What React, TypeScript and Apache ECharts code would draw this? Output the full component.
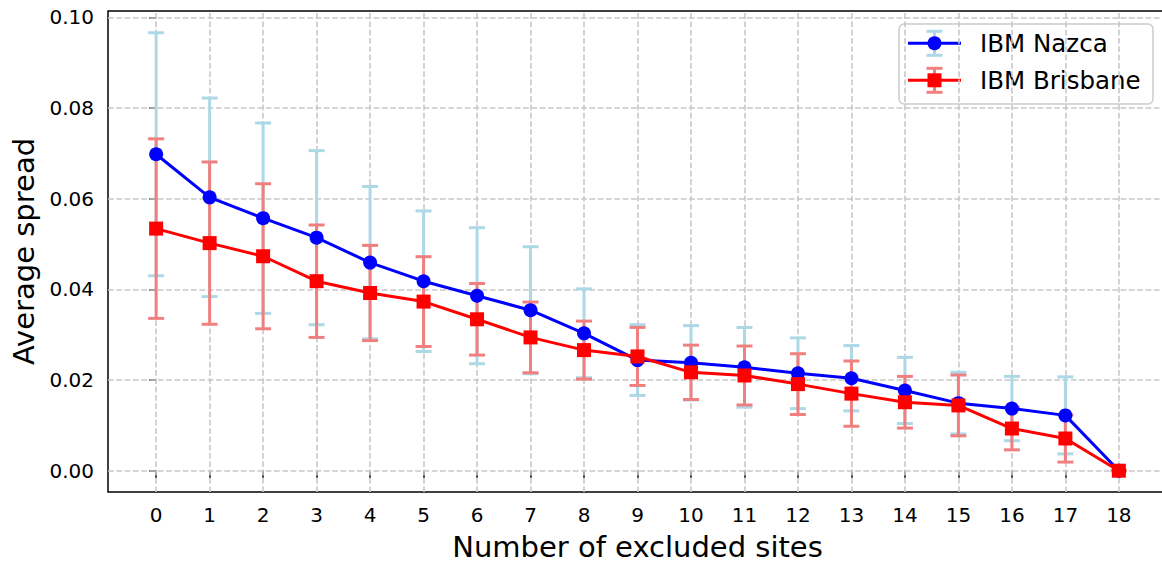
import React, { useEffect, useRef } from "react";
import * as echarts from "echarts";

const sites = [0, 1, 2, 3, 4, 5, 6, 7, 8, 9, 10, 11, 12, 13, 14, 15, 16, 17, 18];
const nazcaMean = [0.0698, 0.0603, 0.0557, 0.0514, 0.0459, 0.0418, 0.0386, 0.0354, 0.0303, 0.0244, 0.0238, 0.0228, 0.0215, 0.0204, 0.0177, 0.0149, 0.0137, 0.0122, 0.0];
const nazcaStd = [0.0268, 0.0219, 0.021, 0.0192, 0.0168, 0.0155, 0.015, 0.014, 0.0098, 0.0078, 0.0082, 0.0088, 0.0078, 0.0072, 0.0073, 0.0068, 0.0071, 0.0085, 0.0];
const brisbaneMean = [0.0534, 0.0502, 0.0473, 0.0418, 0.0392, 0.0373, 0.0334, 0.0294, 0.0266, 0.0252, 0.0217, 0.021, 0.0191, 0.017, 0.0151, 0.0144, 0.0093, 0.0071, 0.0];
const brisbaneStd = [0.0198, 0.0179, 0.016, 0.0124, 0.0105, 0.0099, 0.0079, 0.0078, 0.0064, 0.0064, 0.006, 0.0065, 0.0067, 0.0072, 0.0057, 0.0067, 0.0047, 0.0052, 0.0];
const yTicks = [0, 0.02, 0.04, 0.06, 0.08, 0.1];
const xTicks = sites;
const seriesNames = ["IBM Nazca", "IBM Brisbane"];

const FONT = "DejaVu Sans";
const BLUE = "#0000ff";
const RED = "#ff0000";
const LIGHTBLUE = "#add8e6";
const LIGHTCORAL = "#f08080";

function errorBarSeries(mean: number[], std: number[], color: string, z: number) {
  return {
    type: "custom",
    z,
    silent: true,
    data: sites.map((x, i) => [x, mean[i] - std[i], mean[i] + std[i]]),
    encode: { x: 0, y: [1, 2] },
    renderItem: (params: any, api: any) => {
      const x = api.value(0);
      const top = api.coord([x, api.value(2)]);
      const bot = api.coord([x, api.value(1)]);
      const half = 8;
      const st = { stroke: color, lineWidth: 3 };
      return {
        type: "group",
        children: [
          { type: "line", shape: { x1: top[0], y1: top[1], x2: bot[0], y2: bot[1] }, style: st },
          { type: "line", shape: { x1: top[0] - half, y1: top[1], x2: top[0] + half, y2: top[1] }, style: st },
          { type: "line", shape: { x1: bot[0] - half, y1: bot[1], x2: bot[0] + half, y2: bot[1] }, style: st },
        ],
      };
    },
  };
}

function legendItem(y: number, lineColor: string, errColor: string, marker: "circle" | "rect", label: string) {
  const cx = 934.5;
  const children: any[] = [
    { type: "line", shape: { x1: cx, y1: y - 12, x2: cx, y2: y + 12 }, style: { stroke: errColor, lineWidth: 3 } },
    { type: "line", shape: { x1: cx - 8, y1: y - 12, x2: cx + 8, y2: y - 12 }, style: { stroke: errColor, lineWidth: 3 } },
    { type: "line", shape: { x1: cx - 8, y1: y + 12, x2: cx + 8, y2: y + 12 }, style: { stroke: errColor, lineWidth: 3 } },
    { type: "line", shape: { x1: 908, y1: y, x2: 961, y2: y }, style: { stroke: lineColor, lineWidth: 3 } },
    marker === "circle"
      ? { type: "circle", shape: { cx, cy: y, r: 7 }, style: { fill: lineColor } }
      : { type: "rect", shape: { x: cx - 7, y: y - 7, width: 14, height: 14 }, style: { fill: lineColor } },
    {
      type: "text",
      x: 980,
      y,
      style: { text: label, fill: "#000", font: `24.5px "${FONT}"`, verticalAlign: "middle", align: "left" },
    },
  ];
  return children;
}

export default function App() {
  const ref = useRef<HTMLDivElement>(null);
  useEffect(() => {
    if (!ref.current) return;
    const chart = echarts.init(ref.current, null, { renderer: "svg" });
    const option: any = {
      animation: false,
      backgroundColor: "#ffffff",
      grid: {
        left: 108,
        top: 11,
        width: 1059,
        height: 481,
        outerBoundsMode: "none",
        containLabel: false,
        show: true,
        borderColor: "#000",
        borderWidth: 1.5,
        backgroundColor: "transparent",
      },
      xAxis: {
        type: "value",
        min: -0.9,
        max: 18.9,
        name: "Number of excluded sites",
        nameLocation: "middle",
        nameGap: 40,
        nameTextStyle: { fontFamily: FONT, fontSize: 29, color: "#000" },
        axisLine: { show: false },
        axisTick: { show: true, inside: false, length: 7, customValues: xTicks, lineStyle: { color: "#000", width: 1.5 } },
        axisLabel: {
          customValues: xTicks,
          margin: 13,
          fontFamily: FONT,
          fontSize: 20,
          color: "#000",
          formatter: (v: number) => String(v),
        },
        splitLine: { show: false },
      },
      yAxis: {
        type: "value",
        min: -0.0047,
        max: 0.1014,
        name: "Average spread",
        nameLocation: "middle",
        nameGap: 64,
        nameTextStyle: { fontFamily: FONT, fontSize: 29, color: "#000" },
        axisLine: { show: false },
        axisTick: { show: true, inside: false, length: 7, customValues: yTicks, lineStyle: { color: "#000", width: 1.5 } },
        axisLabel: {
          customValues: yTicks,
          margin: 14,
          fontFamily: FONT,
          fontSize: 20,
          color: "#000",
          formatter: (v: number) => v.toFixed(2),
        },
        splitLine: { show: false },
      },
      series: [
        {
          type: "line",
          name: "grid",
          data: [],
          silent: true,
          z: 1,
          markLine: {
            z: 1,
            silent: true,
            symbol: ["none", "none"],
            label: { show: false },
            emphasis: { disabled: true },
            lineStyle: { color: "#c8c8c8", type: [5.8, 2.5], width: 1.6 },
            data: [...yTicks.map((v) => ({ yAxis: v })), ...xTicks.map((v) => ({ xAxis: v }))],
          },
        },
        errorBarSeries(nazcaMean, nazcaStd, LIGHTBLUE, 2),
        errorBarSeries(brisbaneMean, brisbaneStd, LIGHTCORAL, 3),
        {
          type: "line",
          name: seriesNames[0],
          z: 4,
          data: sites.map((x, i) => [x, nazcaMean[i]]),
          symbol: "circle",
          symbolSize: 14,
          lineStyle: { color: BLUE, width: 3 },
          itemStyle: { color: BLUE, borderWidth: 0 },
        },
        {
          type: "line",
          name: seriesNames[1],
          z: 5,
          data: sites.map((x, i) => [x, brisbaneMean[i]]),
          symbol: "rect",
          symbolSize: 14,
          lineStyle: { color: RED, width: 3 },
          itemStyle: { color: RED, borderWidth: 0 },
        },
      ],
      graphic: [
        {
          type: "group",
          z: 100,
          children: [
            {
              type: "rect",
              shape: { x: 899, y: 24, width: 254, height: 80, r: 5 },
              style: { fill: "rgba(255,255,255,0.8)", stroke: "#cccccc", lineWidth: 1.5 },
            },
            ...legendItem(43.3, BLUE, LIGHTBLUE, "circle", seriesNames[0]),
            ...legendItem(80.3, RED, LIGHTCORAL, "rect", seriesNames[1]),
          ],
        },
      ],
    };
    chart.setOption(option);
    return () => chart.dispose();
  }, []);
  return (
    <div
      ref={ref}
      style={{ position: "absolute", left: 0, top: 0, width: 1162, height: 562, background: "#fff" }}
    />
  );
}
